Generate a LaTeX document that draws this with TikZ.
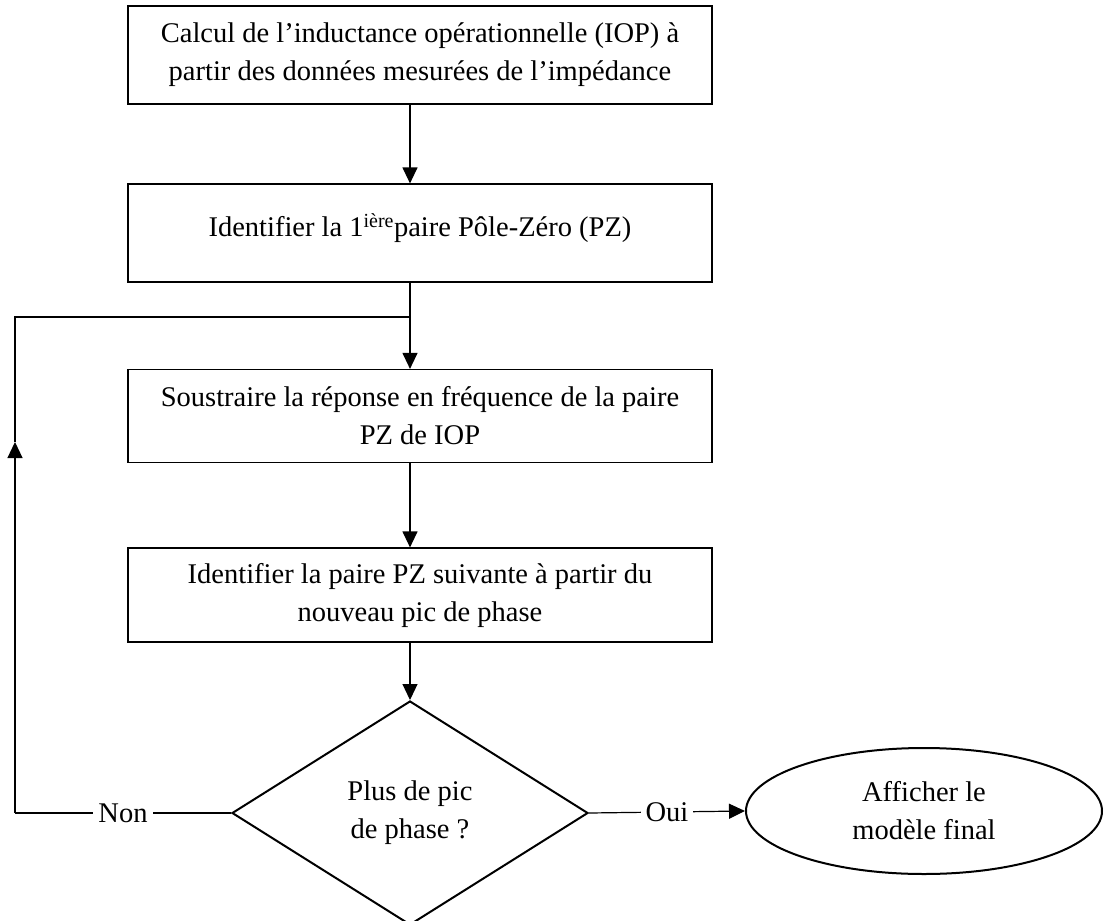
\documentclass[tikz,border=0pt]{standalone}
\usepackage{fontspec}
\setmainfont{Liberation Serif}
\usetikzlibrary{arrows.meta,shapes.geometric}

\begin{document}
\begin{tikzpicture}[x=1pt,y=-1pt,
  every node/.style={font=\fontsize{28.5}{38}\selectfont},
  stepbox/.style={draw,line width=1.2pt,minimum width=584pt,minimum height=98pt,align=center,inner sep=0pt},
  decision/.style={draw,diamond,line width=2pt,minimum width=356pt,minimum height=224pt,inner sep=0pt,align=center},
  terminal/.style={draw,ellipse,line width=2pt,minimum width=356pt,minimum height=126pt,inner sep=0pt,align=center},
  flow/.style={line width=1.2pt,-{Triangle[length=16pt,width=15pt]}},
  link/.style={line width=1.2pt},
  answer/.style={fill=white,inner sep=5pt}]
\useasboundingbox (0,0) rectangle (1106,921);

% steps
\node[stepbox] (calc) at (420,55) {Calcul de l'inductance opérationnelle (IOP) à\\partir des données mesurées de l'impédance};
\node[stepbox,text depth=16pt] (ident) at (420,233) {Identifier la 1\textsuperscript{ière}paire Pôle-Zéro (PZ)};
\node[stepbox,minimum height=93pt] (sous) at (420,416) {Soustraire la réponse en fréquence de la paire\\PZ de IOP};
\node[stepbox,minimum height=94pt] (suiv) at (420,595) {Identifier la paire PZ suivante à partir du\\nouveau pic de phase};
\node[decision] (test) at (410,813) {Plus de pic\\de phase ?};
\node[terminal] (fin) at (924,811) {Afficher le\\modèle final};

% loop points
\coordinate (split) at (410,317);
\coordinate (loop top) at (15,317);
\coordinate (loop bottom) at (15,813);
\coordinate (loop arrow) at (15,442);

\draw[flow] (calc.south -| test) -- (ident.north -| test);
\draw[flow] (ident.south -| test) -- (sous.north -| test);
\draw[flow] (sous.south -| test) -- (suiv.north -| test);
\draw[flow] (suiv.south -| test) -- (test);

\draw[link] (test.west) -- node[answer] {Non} (loop bottom);
\draw[flow] (loop bottom) -- (loop arrow);
\draw[link] (loop arrow) -- (loop top) -- (split);

\draw[flow] (test.east) -- node[answer] {Oui} (fin.west);
\end{tikzpicture}
\end{document}
